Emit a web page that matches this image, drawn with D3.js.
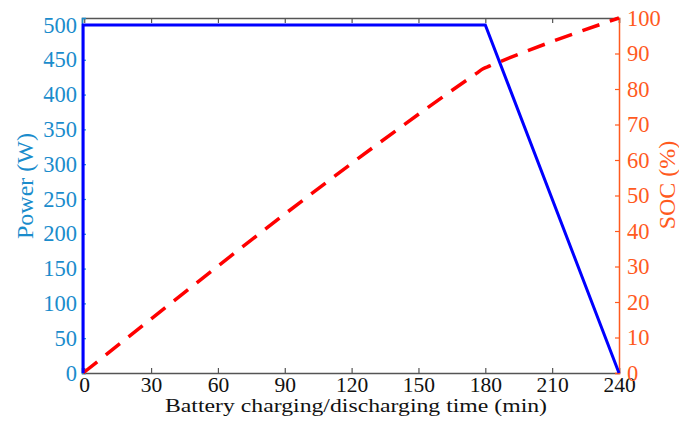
<!DOCTYPE html>
<html><head><meta charset="utf-8">
<script src="https://cdn.jsdelivr.net/npm/d3@7"></script>
<style>body{margin:0;background:#fff}svg{display:block}text{font-family:"Liberation Serif","Times New Roman",serif}</style>
</head><body><svg id="c" width="679" height="425"></svg>
<script>
const xTicks = [0,30,60,90,120,150,180,210,240];
const powerTicks = [0,50,100,150,200,250,300,350,400,450,500];
const socTicks = [0,10,20,30,40,50,60,70,80,90,100];
const powerTime = [-0.5,-0.5,180,240];
const powerValues = [0,500,500,0];
const socTime = [-0.5,176,179,182,240];
const socValues = [0,84.4,85.7,86.5,100];

const W=679,H=425, L=82,R=619,T=18,B=373;
const svg=d3.select("#c");
const x=d3.scaleLinear().domain([-1,240]).range([L,R]);
const yP=d3.scaleLinear().domain([0,510]).range([B,T]);
const yS=d3.scaleLinear().domain([0,100]).range([B,T]);
const blueTxt="#1a8ccc", orange="#ff5a1e", gray="#555";
const fs=22.5, xfs=21.5, lfs=24;

// bottom axis
const gx=svg.append("g").attr("transform",`translate(0,${B})`)
  .call(d3.axisBottom(x).tickValues(xTicks).tickSize(-5).tickPadding(4).tickFormat(d3.format("d")));
gx.select(".domain").attr("stroke",gray).attr("stroke-width",1.5);
gx.selectAll(".tick line").attr("stroke",gray).attr("stroke-width",1.2);
gx.selectAll(".tick text").attr("font-size",xfs).attr("fill","#111").attr("dy","0.71em");
// top axis
const gt=svg.append("g").attr("transform",`translate(0,${T})`)
  .call(d3.axisTop(x).tickValues(xTicks).tickSize(-5).tickFormat(""));
gt.select(".domain").attr("stroke",gray).attr("stroke-width",1.5);
gt.selectAll(".tick line").attr("stroke",gray).attr("stroke-width",1.2);
// left axis
const gl=svg.append("g").attr("transform",`translate(${L},0)`)
  .call(d3.axisLeft(yP).tickValues(powerTicks).tickSize(-4).tickPadding(5));
gl.select(".domain").attr("stroke",blueTxt).attr("stroke-width",1.5);
gl.selectAll(".tick line").attr("stroke",blueTxt).attr("stroke-width",1.2);
gl.selectAll(".tick text").attr("font-size",fs).attr("fill",blueTxt);
// right axis
const gr=svg.append("g").attr("transform",`translate(${R},0)`)
  .call(d3.axisRight(yS).tickValues(socTicks).tickSize(-4).tickPadding(8));
gr.select(".domain").attr("stroke",orange).attr("stroke-width",1.5);
gr.selectAll(".tick line").attr("stroke",orange).attr("stroke-width",1.2);
gr.selectAll(".tick text").attr("font-size",fs).attr("fill",orange);

// lines
const pData=powerTime.map((t,i)=>[t,powerValues[i]]);
const sData=socTime.map((t,i)=>[t,socValues[i]]);
svg.append("path").datum(sData)
  .attr("d",d3.line().x(d=>x(d[0])).y(d=>yS(d[1])).curve(d3.curveMonotoneX))
  .attr("fill","none").attr("stroke","#ff0000").attr("stroke-width",3.5)
  .attr("stroke-dasharray","18,11");
svg.append("path").datum(pData)
  .attr("d",d3.line().x(d=>x(d[0])).y(d=>yP(d[1])))
  .attr("fill","none").attr("stroke","#0000ff").attr("stroke-width",3);

// labels
svg.append("text").attr("transform",`translate(33,186) rotate(-90)`).attr("text-anchor","middle")
  .attr("font-size",lfs).attr("fill",blueTxt).text("Power (W)");
svg.append("text").attr("transform",`translate(675,185) rotate(-90)`).attr("text-anchor","middle")
  .attr("font-size",lfs).attr("fill",orange).text("SOC (%)");
svg.append("text").attr("x",356).attr("y",412).attr("text-anchor","middle")
  .attr("font-size",19.5).attr("textLength",382).attr("lengthAdjust","spacingAndGlyphs")
  .attr("fill","#111").text("Battery charging/discharging time (min)");
</script></body></html>
